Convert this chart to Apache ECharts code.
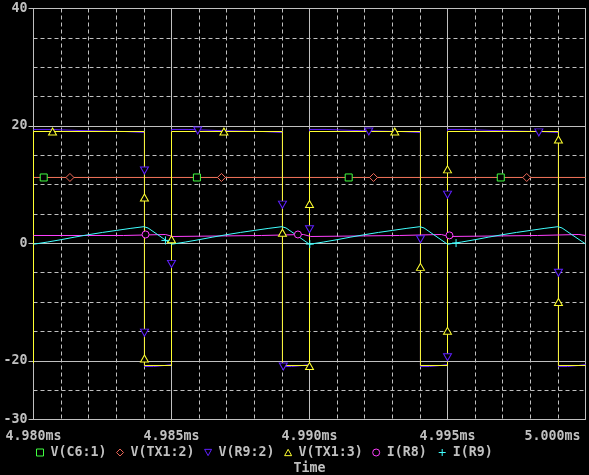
<!DOCTYPE html>
<html><head><meta charset="utf-8">
<script src="https://cdn.jsdelivr.net/npm/echarts@6/dist/echarts.min.js"></script>
<style>html,body{margin:0;padding:0;background:#000;}#c{width:589px;height:475px;}</style>
</head><body><div id="c"></div>
<script>
// ---- data (time in microseconds, values in V / A) ----
const traceNames = ['V(C6:1)', 'V(TX1:2)', 'V(R9:2)', 'V(TX1:3)', 'I(R8)', 'I(R9)'];
const xTicks = [4980, 4985, 4990, 4995, 5000];
const yTickLabels = [-30, -20, 0, 20, 40];

const vC61 = [[4980, 11.22], [5000, 11.22]];
const vC61Marks = [[4980.37, 11.22], [4985.92, 11.22], [4991.42, 11.22], [4996.93, 11.22]];

const vTX12 = [[4980, 11.22], [5000, 11.22]];
const vTX12Marks = [[4981.32, 11.22], [4986.81, 11.22], [4992.32, 11.22], [4997.87, 11.22]];

const vR92 = [
  [4980, 19.4], [4980.6, 19.4], [4980.6, 19.22], [4981.65, 19.22], [4981.65, 19.05], [4983.3, 19.05], [4983.3, 18.88], [4984.02, 18.88],
  [4984.02, -20.98], [4984.35, -20.98], [4984.35, -20.8], [4984.75, -20.8], [4984.75, -20.63], [4985.0, -20.63],
  [4985.0, 19.4], [4985.6, 19.4], [4985.6, 19.22], [4986.65, 19.22], [4986.65, 19.05], [4988.3, 19.05], [4988.3, 18.88], [4989.02, 18.88],
  [4989.02, -20.98], [4989.35, -20.98], [4989.35, -20.8], [4989.75, -20.8], [4989.75, -20.63], [4990.0, -20.63],
  [4990.0, 19.4], [4990.6, 19.4], [4990.6, 19.22], [4991.65, 19.22], [4991.65, 19.05], [4993.3, 19.05], [4993.3, 18.88], [4994.02, 18.88],
  [4994.02, -20.98], [4994.35, -20.98], [4994.35, -20.8], [4994.75, -20.8], [4994.75, -20.63], [4995.0, -20.63],
  [4995.0, 19.4], [4995.6, 19.4], [4995.6, 19.22], [4996.65, 19.22], [4996.65, 19.05], [4998.3, 19.05], [4998.3, 18.88], [4999.02, 18.88],
  [4999.02, -20.98], [4999.35, -20.98], [4999.35, -20.8], [4999.75, -20.8], [4999.75, -20.63], [5000, -20.63]
];
const vR92Marks = [
  [4984.02, 12.4], [4984.02, -15.2], [4985.0, -3.5], [4985.95, 19.22], [4989.02, 6.6], [4989.05, -20.98],
  [4990.0, 2.4], [4992.15, 19.05], [4994.02, 0.7], [4995.0, -19.4], [4995.0, 8.3], [4998.31, 18.9], [4999.02, -5.0]
];

const vTX13 = [
  [4980, -20.4], [4980, 19.05], [4984.02, 19.05], [4984.02, -20.8], [4985.0, -20.8],
  [4985.0, 19.05], [4989.02, 19.05], [4989.02, -20.8], [4990.0, -20.8],
  [4990.0, 19.05], [4994.02, 19.05], [4994.02, -20.8], [4995.0, -20.8],
  [4995.0, 19.05], [4999.02, 19.05], [4999.02, -20.8], [5000, -20.8]
];
const vTX13Marks = [
  [4980.69, 19.05], [4984.02, 7.8], [4984.02, -19.6], [4985.0, 0.7], [4986.9, 19.05], [4989.02, 1.8],
  [4990.0, -20.9], [4990.0, 6.7], [4993.09, 19.05], [4994.02, -4.0], [4995.0, -14.9], [4995.0, 12.6],
  [4999.02, 17.7], [4999.02, -10.0]
];

const iR8 = [
  [4980, 1.34], [4983.26, 1.34], [4983.26, 1.51], [4984.78, 1.51], [4984.82, 1.17], [4985.05, 1.17], [4985.12, 1.34],
  [4988.26, 1.34], [4988.26, 1.51], [4989.78, 1.51], [4989.82, 1.17], [4990.05, 1.17], [4990.12, 1.34],
  [4993.26, 1.34], [4993.26, 1.51], [4994.78, 1.51], [4994.82, 1.17], [4995.05, 1.17], [4995.12, 1.34],
  [4998.26, 1.34], [4998.26, 1.51], [4999.76, 1.51], [4999.76, 1.34], [5000, 1.34]
];
const iR8Marks = [[4984.06, 1.51], [4989.58, 1.51], [4995.07, 1.36]];

const iR9 = [
  [4980, -0.15], [4980.5, 0.22], [4981, 0.63], [4981.5, 1.07], [4982, 1.48], [4982.5, 1.86], [4983, 2.2], [4983.5, 2.54], [4984, 2.84], [4984.15, 2.62],
  [4985.0, -0.15], [4985.5, 0.22], [4986, 0.63], [4986.5, 1.07], [4987, 1.48], [4987.5, 1.86], [4988, 2.2], [4988.5, 2.54], [4989, 2.84], [4989.15, 2.62],
  [4990.0, -0.15], [4990.5, 0.22], [4991, 0.63], [4991.5, 1.07], [4992, 1.48], [4992.5, 1.86], [4993, 2.2], [4993.5, 2.54], [4994, 2.84], [4994.15, 2.62],
  [4995.0, -0.15], [4995.5, 0.22], [4996, 0.63], [4996.5, 1.07], [4997, 1.48], [4997.5, 1.86], [4998, 2.2], [4998.5, 2.54], [4999, 2.84], [4999.15, 2.62],
  [5000, -0.1]
];
const iR9Marks = [[4984.78, 0.5], [4990.01, -0.12], [4995.31, 0.05]];

// ---- styling ----
const GRAY = '#c0c0c0';
const FONT = 'DejaVu Sans Mono';
const DOWN_TRI = 'path://M0,0L10,0L5,9Z';
const UP_TRI = 'path://M5,0L10,9L0,9Z';
const PLUS = 'path://M0,5L10,5M5,0L5,10';
const colors = ['#40ff40', '#f06a5a', '#6020ff', '#ffff30', '#ff40ff', '#40ffff'];
const symbols = ['rect', 'diamond', DOWN_TRI, UP_TRI, 'circle', PLUS];
const symSizes = [[7, 7], [8, 8], [8, 7], [8, 7], [7, 7], [8, 8]];
const lines = [vC61, vTX12, vR92, vTX13, iR8, iR9];
const marks = [vC61Marks, vTX12Marks, vR92Marks, vTX13Marks, iR8Marks, iR9Marks];

const series = [];
traceNames.forEach((n, i) => {
  series.push({
    type: 'scatter', name: n, data: marks[i], z: 3,
    symbol: symbols[i], symbolSize: symSizes[i],
    itemStyle: { color: i === 5 ? 'none' : '#000', borderColor: colors[i], borderWidth: 1, opacity: 1 },
    silent: true
  });
});
traceNames.forEach((n, i) => {
  const s = {
    type: 'line', name: n, data: lines[i], z: 2,
    symbol: 'none', showSymbol: false, smooth: false,
    lineStyle: { color: colors[i], width: 1 },
    itemStyle: { color: colors[i] },
    silent: true
  };
  if (i === 0) {
    s.markLine = {
      silent: true, z: 1, symbol: 'none', label: { show: false },
      lineStyle: { color: GRAY, type: 'solid', width: 1 },
      emphasis: { disabled: true },
      data: [{ yAxis: 20 }, { yAxis: 0 }, { yAxis: -20 }]
    };
  }
  series.push(s);
});

const labelFont = { color: GRAY, fontFamily: FONT, fontWeight: 'bold', fontSize: 13.3 };
const chart = echarts.init(document.getElementById('c'), null, { renderer: 'canvas' });
chart.setOption({
  backgroundColor: '#000',
  animation: false,
  textStyle: { fontFamily: FONT },
  grid: {
    left: 33.5, right: 3.5, top: 8.5, bottom: 55.5, containLabel: false, outerBoundsMode: 'none',
    show: true, borderColor: GRAY, borderWidth: 1, backgroundColor: 'transparent'
  },
  legend: {
    left: 36, top: 446, padding: 0, itemWidth: 7, itemHeight: 7, itemGap: 9.5, selectedMode: false,
    textStyle: Object.assign({ padding: [0, 0, 0, 2] }, labelFont),
    data: traceNames.map((n, i) => ({
      name: n, icon: symbols[i],
      itemStyle: { color: i === 5 ? 'none' : '#000', borderColor: colors[i], borderWidth: 1 }
    }))
  },
  xAxis: [
    {
      type: 'value', min: xTicks[0], max: xTicks[xTicks.length - 1], interval: 5, position: 'bottom',
      axisLine: { show: true, lineStyle: { color: GRAY } },
      axisTick: { show: true, length: 7, lineStyle: { color: GRAY } },
      axisLabel: Object.assign({
        margin: 11, padding: [0, 5, 0, 5],
        showMinLabel: true, showMaxLabel: true, alignMaxLabel: 'right',
        formatter: v => (v / 1000).toFixed(3) + 'ms'
      }, labelFont),
      splitLine: { show: true, lineStyle: { color: GRAY, type: 'solid', width: 1 } },
      name: 'Time', nameLocation: 'middle', nameGap: 43,
      nameTextStyle: labelFont
    },
    {
      type: 'value', min: xTicks[0], max: xTicks[xTicks.length - 1], interval: 1, position: 'top',
      axisLine: { show: false }, axisTick: { show: false }, axisLabel: { show: false },
      splitLine: { show: true, lineStyle: { color: GRAY, type: [4, 3], width: 1 } }
    }
  ],
  yAxis: [
    {
      type: 'value', min: -30, max: 40, interval: 5, position: 'left',
      axisLine: { show: false },
      axisTick: { show: true, length: 5, customValues: yTickLabels, lineStyle: { color: GRAY } },
      axisLabel: Object.assign({
        customValues: yTickLabels, margin: 6, showMinLabel: true, showMaxLabel: true,
        formatter: v => (yTickLabels.indexOf(v) >= 0 ? String(v) : '')
      }, labelFont),
      splitLine: { show: true, lineStyle: { color: GRAY, type: 'solid', width: 1 } }
    },
    {
      type: 'value', min: -30, max: 40, interval: 5, position: 'right',
      axisLine: { show: false }, axisTick: { show: false }, axisLabel: { show: false },
      splitLine: { show: true, lineStyle: { color: GRAY, type: [4, 3], width: 1 } }
    }
  ],
  series: series
});
</script></body></html>
